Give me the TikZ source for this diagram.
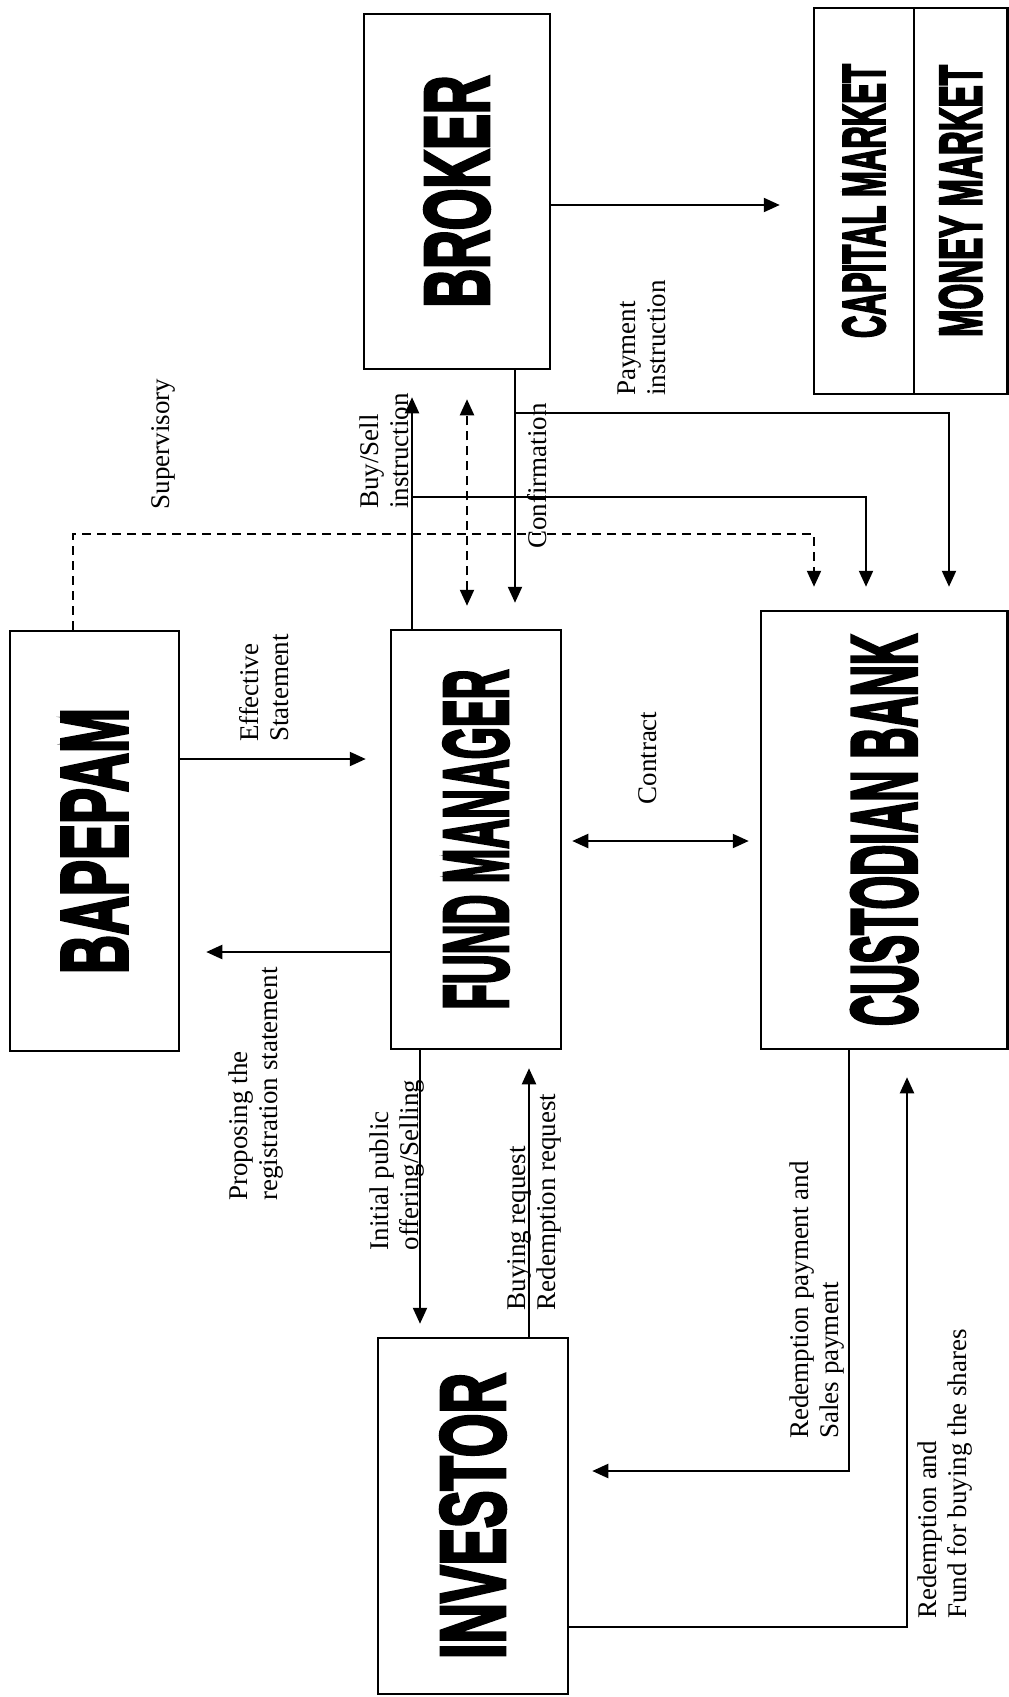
\documentclass[tikz,border=0pt]{standalone}
\usepackage{fontspec}
\setmainfont{Liberation Serif}
\newfontfamily\titlefont[FakeBold=4]{Liberation Sans Bold}
\usetikzlibrary{arrows.meta,calc}
\newcommand{\bigtitle}[3]{\rotatebox{90}{\resizebox{#1}{#2}{\titlefont #3}}}

\begin{document}
\begin{tikzpicture}[x=1pt, y=-1pt,
  every node/.style={font=\fontsize{27}{30}\selectfont},
  box/.style={draw, line width=2.5pt, inner sep=0pt},
  lbl/.style={rotate=90, align=left, inner sep=0pt},
  arr/.style={line width=2.2pt, -{Triangle[length=16pt,width=14pt]}},
  both/.style={line width=2.2pt, {Triangle[length=16pt,width=14pt]}-{Triangle[length=16pt,width=14pt]}},
  superv/.style={dash pattern=on 9pt off 6pt}
]
\useasboundingbox (0,0) rectangle (1009,1697);
% Boxes
\node[box, minimum width=169pt, minimum height=420pt] (bapepam) at (94.5,841) {\bigtitle{266pt}{65pt}{BAPEPAM}};
\node[box, minimum width=170pt, minimum height=419pt] (fm) at (476,839.5) {\bigtitle{340pt}{64pt}{FUND MANAGER}};
\node[box, minimum width=246.5pt, minimum height=438pt] (cust) at (884.25,830) {\bigtitle{392pt}{65pt}{CUSTODIAN BANK}};
\node[box, minimum width=186pt, minimum height=355pt] (broker) at (457,191.5) {\bigtitle{232pt}{64pt}{BROKER}};
\node[box, minimum width=100pt, minimum height=386pt] (capital) at (864,201) {\bigtitle{274pt}{42pt}{CAPITAL MARKET}};
\node[box, minimum width=93.5pt, minimum height=386pt] (money) at (960.75,201) {\bigtitle{272pt}{42pt}{MONEY MARKET}};
\node[box, minimum width=190pt, minimum height=356pt] (investor) at (473,1516) {\bigtitle{286pt}{64pt}{INVESTOR}};
% Corner points
\coordinate (bsfork) at (412,497);
\coordinate (payfork) at (515,413);
\coordinate (supcorner) at (814,534);
% Bapepam -- fund manager -- custodian
\draw[arr, shorten >=24pt] (bapepam.east |- 0,759) -- (fm.west |- 0,759);
\draw[arr, shorten >=26pt] (fm.west |- 0,952) -- (bapepam.east |- 0,952);
\draw[both, shorten <=10pt, shorten >=11pt] (fm.east |- 0,841) -- (cust.west |- 0,841);
% Broker links
\draw[arr, shorten >=27pt] (fm.north -| 412,0) -- (broker.south -| 412,0);
\draw[arr, shorten >=23pt] (bsfork) -| (cust.north -| 866,0);
\draw[both, superv, shorten <=23pt, shorten >=29pt] (fm.north -| 467,0) -- (broker.south -| 467,0);
\draw[arr, shorten >=26pt] (broker.south -| 515,0) -- (fm.north -| 515,0);
\draw[arr, shorten >=23pt] (payfork) -| (cust.north -| 949,0);
\draw[arr, shorten >=33pt] (broker.east |- 0,205) -- (capital.west |- 0,205);
% Supervisory
\draw[arr, superv, shorten >=23pt] (bapepam.north -| 73,0) |- (supcorner) -- (cust.north -| supcorner);
% Investor links
\draw[arr, shorten >=13pt] (fm.south -| 420,0) -- (investor.north -| 420,0);
\draw[arr, shorten >=18pt] (investor.north -| 529,0) -- (fm.south -| 529,0);
\draw[arr, shorten >=23pt] (cust.south -| 849,0) |- (investor.east |- 0,1471);
\draw[arr, shorten >=27pt] (investor.east |- 0,1627) -| (cust.south -| 907,0);
% Labels
\node[lbl] (suplbl) at (163,444) {Supervisory};
\node[lbl] (bslbl) at (384,451) {Buy/Sell\\instruction};
\node[lbl] (conflbl) at (537,476) {Confirmation};
\node[lbl] (paylbl) at (642,338) {Payment\\instruction};
\node[lbl] (efflbl) at (264,688) {Effective\\Statement};
\node[lbl] (conlbl) at (648,758) {Contract};
\node[lbl] (proplbl) at (256,1084) {Proposing the\\registration statement};
\node[lbl] (ipolbl) at (397,1165) {Initial public\\offering/Selling};
\node[lbl] (buylbl) at (534,1202) {Buying request\\Redemption request};
\node[lbl] (rplbl) at (817,1300) {Redemption payment and\\Sales payment};
\node[lbl] (rflbl) at (945,1474) {Redemption and\\Fund for buying the shares};
\end{tikzpicture}
\end{document}
